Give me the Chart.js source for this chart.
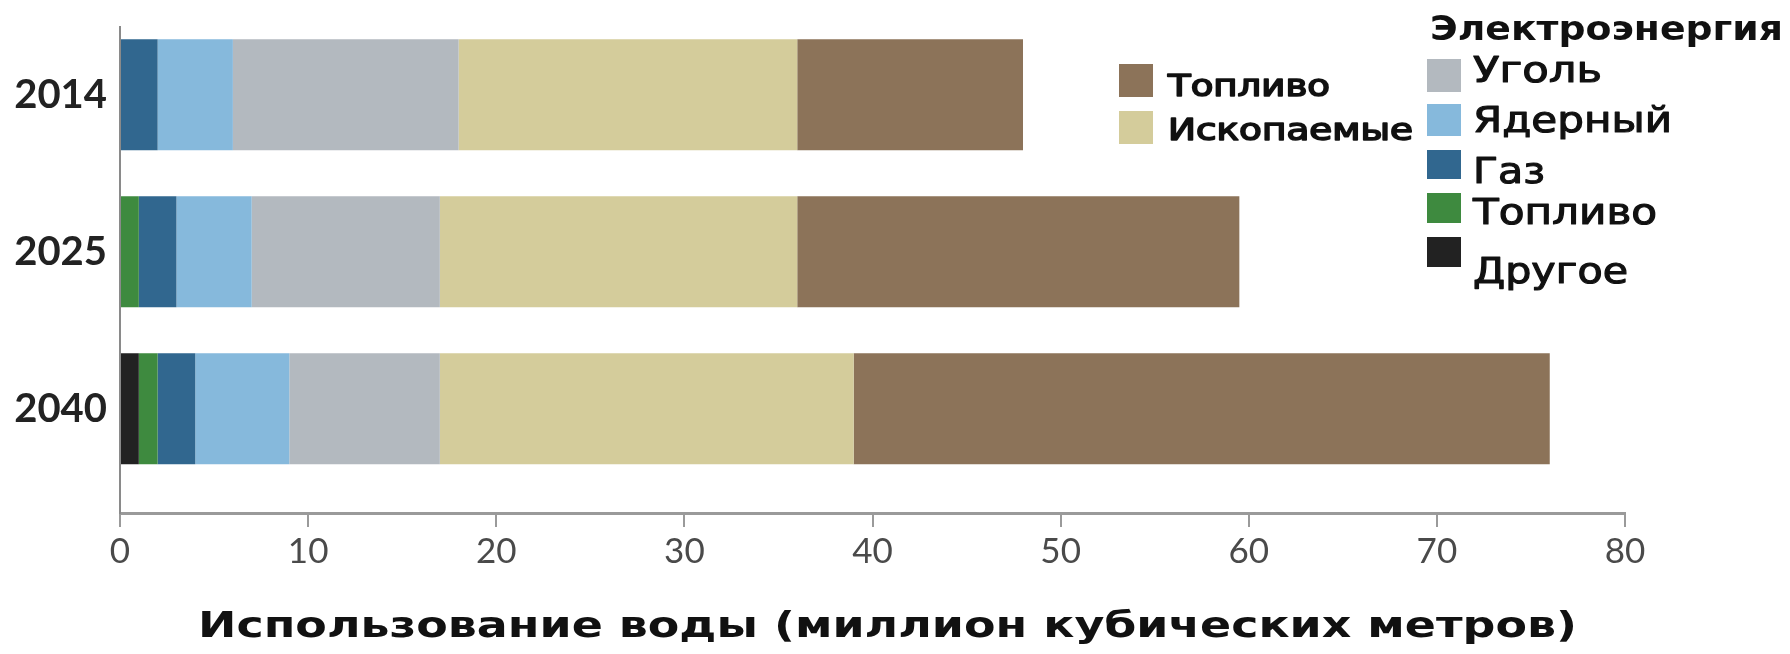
<!DOCTYPE html>
<html>
<head>
<meta charset="utf-8">
<script src="https://cdn.jsdelivr.net/npm/chart.js@4/dist/chart.umd.min.js"></script>
<style>
  html, body { margin: 0; padding: 0; background: #ffffff; }
  #wrap { width: 1790px; height: 654px; position: relative; }
</style>
</head>
<body>
<div id="wrap"><canvas id="c" width="1790" height="654"></canvas></div>
<script>
// ---- data ----
const categories = ['2014', '2025', '2040'];
const otherElec   = [0, 0, 1];     // Другое (электроэнергия)
const fuelElec    = [0, 1, 1];     // Топливо (электроэнергия)
const gasElec     = [2, 2, 2];     // Газ
const nuclearElec = [4, 4, 5];     // Ядерный
const coalElec    = [12, 10, 8];   // Уголь
const fossilFuel  = [18, 19, 22];  // Ископаемые
const fuelFuel    = [12, 23.5, 37];// Топливо
const xTicks = [0, 10, 20, 30, 40, 50, 60, 70, 80];
const xTitle = 'Использование воды (миллион кубических метров)';
const elecTitle = 'Электроэнергия';

const toPts = arr => arr.map((v, i) => ({ x: v, y: i }));

const datasets = [
  { label: 'Другое',     data: toPts(otherElec),   backgroundColor: '#222222' },
  { label: 'Топливо',    data: toPts(fuelElec),    backgroundColor: '#3e8a3f' },
  { label: 'Газ',        data: toPts(gasElec),     backgroundColor: '#31678f' },
  { label: 'Ядерный',    data: toPts(nuclearElec), backgroundColor: '#86b9dc' },
  { label: 'Уголь',      data: toPts(coalElec),    backgroundColor: '#b3b9bf' },
  { label: 'Ископаемые', data: toPts(fossilFuel),  backgroundColor: '#d4cc9b' },
  { label: 'Топливо',    data: toPts(fuelFuel),    backgroundColor: '#8c7359' }
];
datasets.forEach(d => { d.barPercentage = 0.707; d.categoryPercentage = 1.0; d.borderWidth = 0; });

// draw text horizontally scaled to a given visual width
function stretchText(ctx, text, x, y, font, target, stroke) {
  ctx.font = font;
  const w = ctx.measureText(text).width;
  ctx.save();
  ctx.translate(x, y);
  ctx.scale(target / w, 1);
  ctx.fillText(text, 0, 0);
  if (stroke) {
    ctx.strokeStyle = ctx.fillStyle;
    ctx.lineWidth = stroke;
    ctx.lineJoin = 'round';
    ctx.strokeText(text, 0, 0);
  }
  ctx.restore();
}

const legendPlugin = {
  id: 'customLegend',
  afterDraw(chart) {
    const ctx = chart.ctx;
    const ds = chart.data.datasets;
    ctx.save();
    ctx.textBaseline = 'alphabetic';
    ctx.textAlign = 'left';
    const left = [
      { i: 6, by: 64, ty: 96, w: 162 },
      { i: 5, by: 111, ty: 140, w: 245 }
    ];
    left.forEach(e => {
      ctx.fillStyle = ds[e.i].backgroundColor;
      ctx.fillRect(1119, e.by, 34, 33);
      ctx.fillStyle = '#111111';
      stretchText(ctx, ds[e.i].label, 1168, e.ty, '30px "DejaVu Sans"', e.w, 1.6);
    });
    ctx.fillStyle = '#111111';
    stretchText(ctx, elecTitle, 1430, 40, 'bold 34px "DejaVu Sans"', 353);
    const right = [
      { i: 4, by: 59,  bh: 33, ty: 82,  w: 129 },
      { i: 3, by: 104, bh: 32, ty: 132, w: 199 },
      { i: 2, by: 150, bh: 29, ty: 183, w: 72 },
      { i: 1, by: 193, bh: 30, ty: 224, w: 184 },
      { i: 0, by: 237, bh: 30, ty: 283, w: 155 }
    ];
    right.forEach(e => {
      ctx.fillStyle = ds[e.i].backgroundColor;
      ctx.fillRect(1427, e.by, 34, e.bh);
      ctx.fillStyle = '#111111';
      stretchText(ctx, ds[e.i].label, 1473, e.ty, '36px "DejaVu Sans"', e.w, 1.1);
    });
    stretchText(ctx, xTitle, 198, 637, 'bold 35px "DejaVu Sans"', 1379);
    ctx.restore();
  }
};

new Chart(document.getElementById('c'), {
  type: 'bar',
  data: { datasets },
  plugins: [legendPlugin],
  options: {
    indexAxis: 'y',
    responsive: false,
    animation: false,
    devicePixelRatio: 1,
    layout: { padding: { top: 27, right: 165, left: 0, bottom: 0 } },
    plugins: { legend: { display: false }, tooltip: { enabled: false }, title: { display: false } },
    scales: {
      x: {
        type: 'linear',
        stacked: true,
        min: xTicks[0],
        max: xTicks[xTicks.length - 1],
        afterBuildTicks: s => { s.ticks = xTicks.map(v => ({ value: v })); },
        afterFit: s => { s.height = 141; },
        grid: { display: true, drawOnChartArea: false, drawTicks: true, tickLength: 14, color: '#9a9a9a', lineWidth: 2 },
        border: { display: true, color: '#9a9a9a', width: 3 },
        ticks: { font: { family: 'Lato', size: 35 }, color: '#4a4a4a', padding: 4, maxRotation: 0 }
      },
      y: {
        type: 'linear',
        reverse: true,
        stacked: true,
        offset: false,
        min: -0.431,
        max: 2.664,
        afterBuildTicks: s => { s.ticks = categories.map((c, i) => ({ value: i })); },
        afterFit: s => { s.width = 120; s.paddingTop = 0; s.paddingBottom = 0; },
        grid: { display: false, drawTicks: false, offset: false },
        border: { display: true, color: '#8a8a8a', width: 2 },
        ticks: { font: { family: 'Lato', size: 40, weight: 'bold' }, color: '#222222', padding: 13,
                 callback: v => categories[v] }
      }
    }
  }
});
</script>
</body>
</html>
